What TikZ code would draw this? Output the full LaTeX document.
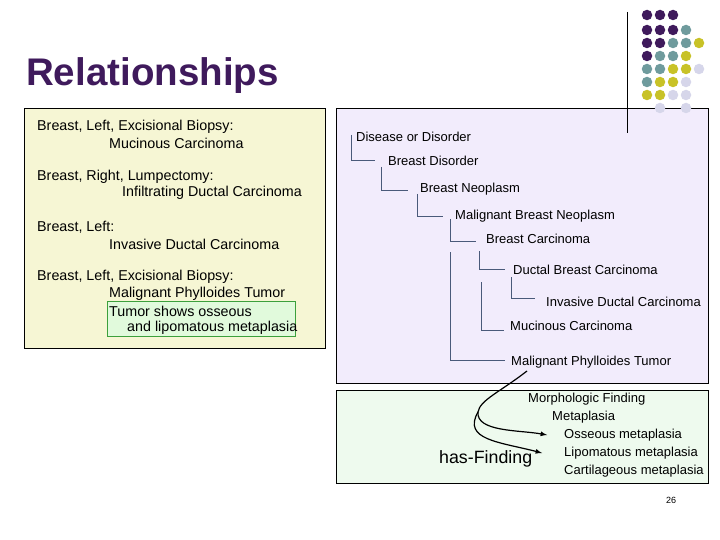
\documentclass[tikz,border=0pt]{standalone}
\usepackage{fontspec}
\setmainfont{Liberation Sans}
\begin{document}
\begin{tikzpicture}[x=1pt,y=-1pt,
  txt/.style={anchor=west,inner sep=0pt,font=\fontsize{14.3}{16}\selectfont},
  tr/.style={anchor=west,inner sep=0pt,font=\fontsize{13}{15}\selectfont},
  tl/.style={draw=treeline,line width=0.8pt},
  dot/.style={circle,inner sep=0pt,minimum size=10.5pt}]
\definecolor{dP}{HTML}{3F1A5C}\definecolor{dT}{HTML}{6F9B9D}
\definecolor{dY}{HTML}{C8C227}\definecolor{dL}{HTML}{D6D6EA}
\definecolor{treeline}{HTML}{4A5A7A}
\useasboundingbox (0,0) rectangle (720,540);
\fill[white] (0,0) rectangle (720,540);
% boxes
\draw[fill={rgb,255:red,246;green,246;blue,212}] (24,108) rectangle (325,348);
\draw[fill={rgb,255:red,242;green,236;blue,252}] (336,108) rectangle (708,383);
\draw[fill={rgb,255:red,238;green,250;blue,238}] (336,390) rectangle (708,483);
\draw (627,12) -- (627,133);
\draw[draw={rgb,255:red,60;green,160;blue,60},fill={rgb,255:red,225;green,250;blue,220}] (107,301) rectangle (295,336);
% dots
\foreach \r/\row in {15/{P,P,P},30/{P,P,P,T},43/{P,P,T,T,Y},56/{P,T,T,Y},69/{T,T,Y,Y,L},82/{T,Y,Y,L},95/{Y,Y,L,L}}{
  \foreach \c [count=\i] in \row { \node[dot,fill=d\c] (d\r\i) at ({634+13*\i},\r) {}; } }
\node[dot,fill=dL] (e1) at (660,108) {};
\node[dot,fill=dL] (e2) at (686,108) {};
\node[anchor=west,inner sep=0pt,text=dP,font=\fontsize{38.5}{42}\bfseries] (title) at (26,76) {Relationships};
% left texts
\node[txt] (l1) at (37,127) {Breast, Left, Excisional Biopsy:};
\node[txt] (l2) at (109,143) {Mucinous Carcinoma};
\node[txt] (l3) at (37,177) {Breast, Right, Lumpectomy:};
\node[txt] (l4) at (122,193) {Infiltrating Ductal Carcinoma};
\node[txt] (l5) at (37,227) {Breast, Left:};
\node[txt] (l6) at (109,244) {Invasive Ductal Carcinoma};
\node[txt] (l7) at (37,277) {Breast, Left, Excisional Biopsy:};
\node[txt] (l8) at (109,294) {Malignant Phylloides Tumor};
\node[txt] (l9) at (109,311) {Tumor shows osseous};
\node[txt] (l10) at (127,328) {and lipomatous metaplasia};
% tree
\node[tr] (t1) at (356,137) {Disease or Disorder};
\node[tr] (t2) at (388,161) {Breast Disorder};
\node[tr] (t3) at (420,189) {Breast Neoplasm};
\node[tr] (t4) at (455,216) {Malignant Breast Neoplasm};
\node[tr] (t5) at (486,239) {Breast Carcinoma};
\node[tr] (t6) at (513,270) {Ductal Breast Carcinoma};
\node[tr] (t7) at (546,302) {Invasive Ductal Carcinoma};
\node[tr] (t8) at (510,326) {Mucinous Carcinoma};
\node[tr] (t9) at (511,362) {Malignant Phylloides Tumor};
\draw[tl] (351,135) -- (351,160) -- (375,160);
\draw[tl] (381,167) -- (381,190) -- (408,190);
\draw[tl] (417,194) -- (417,216) -- (443,216);
\draw[tl] (450,219) -- (450,241) -- (476,241);
\draw[tl] (479,251) -- (479,269) -- (505,269);
\draw[tl] (511,277) -- (511,298) -- (535,298);
\draw[tl] (481,282) -- (481,330) -- (504,330);
\draw[tl] (450,252) -- (450,360) -- (505,360);
% green
\node[tr] (g1) at (528,399) {Morphologic Finding};
\node[tr] (g2) at (552,417) {Metaplasia};
\node[tr] (g3) at (564,435) {Osseous metaplasia};
\node[tr] (g4) at (564,453) {Lipomatous metaplasia};
\node[tr] (g5) at (564,471) {Cartilageous metaplasia};
\node[anchor=west,inner sep=0pt,font=\fontsize{17.8}{20}\selectfont] (hf) at (439,459) {has-Finding};
\node[inner sep=0pt,font=\fontsize{9}{10}\selectfont] (pg) at (671,500) {26};
\coordinate (s) at (527,371);
\coordinate (m) at (478,412);
\draw[line width=1.2pt,-latex] (s) .. controls (500,392) and (480,400) .. (m) .. controls (476,432) and (520,430) .. ([xshift=-17pt]g3.west);
\draw[line width=1.2pt,-latex] (m) .. controls (462,440) and (500,442) .. ([xshift=-22pt]g4.west);
\end{tikzpicture}
\end{document}
